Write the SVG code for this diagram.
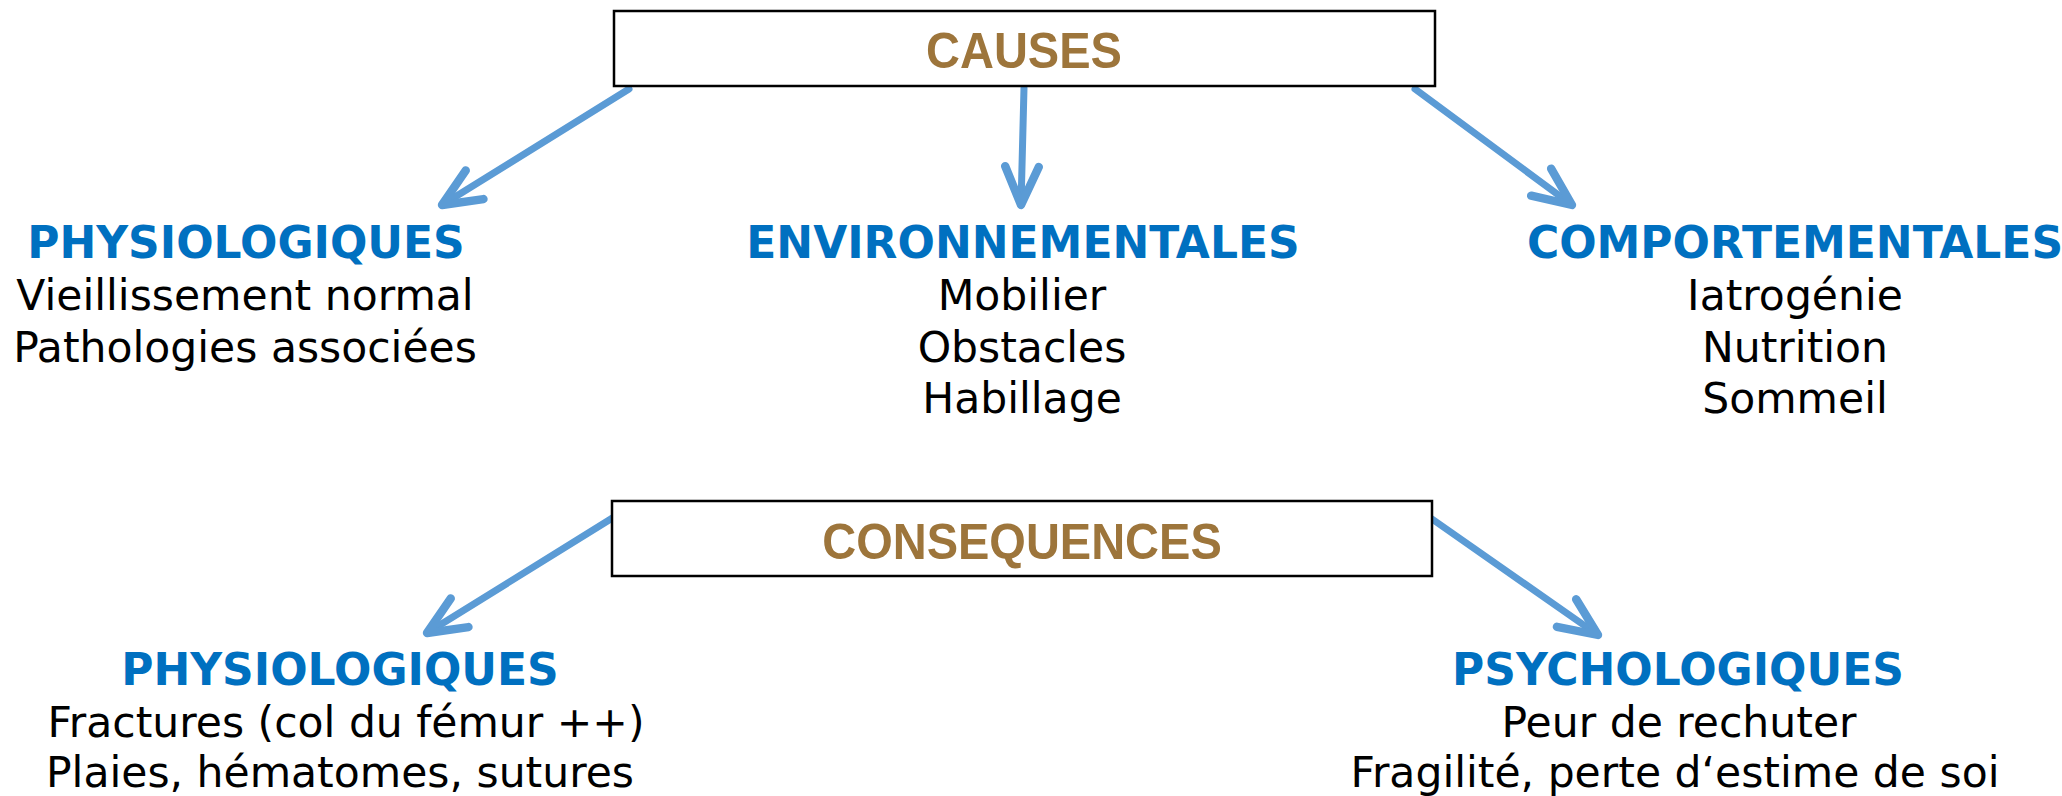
<svg xmlns="http://www.w3.org/2000/svg" width="2062" height="796" viewBox="0 0 2062 796">
<defs>
<style>
.box{fill:#fff;stroke:#000;stroke-width:2.5}
.title{font-family:"Liberation Sans",Arial,sans-serif;font-weight:bold;font-size:50px;fill:#9D753B;text-anchor:middle}
.head{font-family:"DejaVu Sans",Verdana,sans-serif;font-weight:bold;font-size:44px;fill:#0070C0;text-anchor:middle}
.item{font-family:"DejaVu Sans",Verdana,sans-serif;font-size:42.5px;fill:#000;text-anchor:middle}
.conn{stroke:#5B9BD5;stroke-width:7;fill:none;stroke-linecap:round;marker-end:url(#arr)}
</style>
<marker id="arr" markerUnits="userSpaceOnUse" orient="auto" refX="0" refY="0" markerWidth="60" markerHeight="60" viewBox="-40 -20 50 40" overflow="visible">
<path d="M-32,-14 L0,0 L-32,14" fill="none" stroke="#5B9BD5" stroke-width="7" stroke-linecap="round" stroke-linejoin="round"/>
</marker>
</defs>
<rect width="2062" height="796" fill="#fff"/>
<g id="connectors">
<line class="conn" x1="629" y1="89" x2="442" y2="205"/>
<line class="conn" x1="1024" y1="88" x2="1021" y2="205"/>
<line class="conn" x1="1415" y1="89" x2="1572" y2="205"/>
<line class="conn" x1="614" y1="517" x2="427" y2="633"/>
<line class="conn" x1="1432" y1="519" x2="1598" y2="635"/>
</g>
<g id="causes">
<rect class="box" x="614" y="11" width="821" height="75"/>
<text class="title" x="1024" y="68" transform="translate(1024 0) scale(0.94 1) translate(-1024 0)">CAUSES</text>
</g>
<g id="consequences">
<rect class="box" x="612" y="501" width="820" height="75"/>
<text class="title" x="1022" y="559" transform="translate(1022 0) scale(0.94 1) translate(-1022 0)">CONSEQUENCES</text>
</g>
<g id="physio-causes">
<text class="head" x="246" y="258">PHYSIOLOGIQUES</text>
<text class="item" x="245" y="310">Vieillissement normal</text>
<text class="item" x="245" y="362">Pathologies associées</text>
</g>
<g id="environnementales">
<text class="head" x="1023" y="258">ENVIRONNEMENTALES</text>
<text class="item" x="1022" y="310">Mobilier</text>
<text class="item" x="1022" y="362">Obstacles</text>
<text class="item" x="1022" y="413">Habillage</text>
</g>
<g id="comportementales">
<text class="head" x="1795" y="258">COMPORTEMENTALES</text>
<text class="item" x="1795" y="310">Iatrogénie</text>
<text class="item" x="1795" y="362">Nutrition</text>
<text class="item" x="1795" y="413">Sommeil</text>
</g>
<g id="physio-consequences">
<text class="head" x="340" y="685">PHYSIOLOGIQUES</text>
<text class="item" x="346" y="737">Fractures (col du fémur ++)</text>
<text class="item" x="340" y="787">Plaies, hématomes, sutures</text>
</g>
<g id="psychologiques">
<text class="head" x="1678" y="685">PSYCHOLOGIQUES</text>
<text class="item" x="1679" y="737">Peur de rechuter</text>
<text class="item" x="1675" y="787">Fragilité, perte d‘estime de soi</text>
</g>
</svg>
